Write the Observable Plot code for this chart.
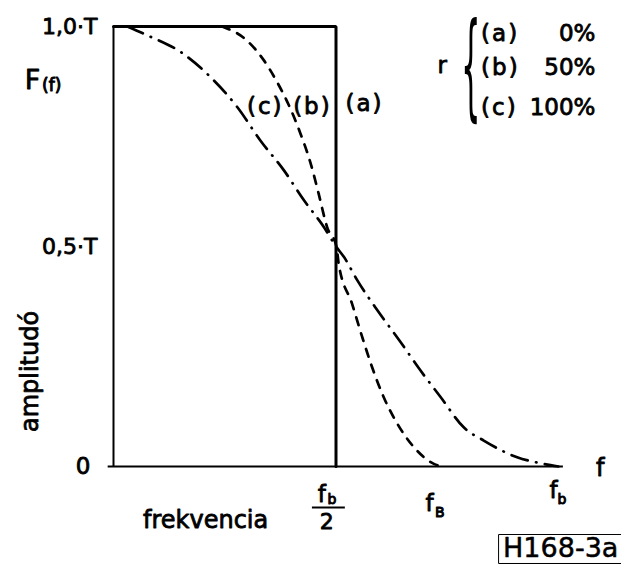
<!DOCTYPE html>
<html>
<head>
<meta charset="utf-8">
<script src="https://cdn.jsdelivr.net/npm/d3@7"></script>
<script src="https://cdn.jsdelivr.net/npm/@observablehq/plot@0.6"></script>
<style>
  body { margin: 0; background: #fff; }
  #chart svg { display: block; }
</style>
</head>
<body>
<div id="chart"></div>
<script>
// ---- data (frequency in units of f_b, amplitude in units of T) ----
const freqA = [0, 0.5, 0.5];
const ampA  = [1, 1, 0];

const freqB = [0.244, 0.300, 0.338, 0.368, 0.390, 0.420, 0.443, 0.461, 0.480, 0.501,
               0.506, 0.536, 0.559, 0.581, 0.607, 0.638, 0.675, 0.720, 0.739];
const ampB  = [1.000, 0.968, 0.923, 0.873, 0.830, 0.757, 0.689, 0.620, 0.544, 0.500,
               0.461, 0.370, 0.294, 0.226, 0.158, 0.097, 0.044, 0.006, 0.000];

const freqC = [0.031, 0.076, 0.151, 0.218, 0.278, 0.330, 0.383, 0.428, 0.473, 0.500,
               0.518, 0.548, 0.593, 0.645, 0.690, 0.735, 0.787, 0.832, 0.907, 0.967, 1.000];
const ampC  = [1.000, 0.980, 0.942, 0.885, 0.817, 0.741, 0.673, 0.605, 0.544, 0.500,
               0.476, 0.423, 0.355, 0.283, 0.218, 0.158, 0.089, 0.059, 0.021, 0.006, 0.000];

const yTicks = [0, 0.5, 1];
const yTickLabels = ["0", "0,5·T", "1,0·T"];
const legendKeys = ["(a)", "(b)", "(c)"];
const legendValues = ["0%", "50%", "100%"];
const curveNames = ["(c)", "(b)", "(a)"];

// ---- tables built from the arrays ----
const A = freqA.map((f, i) => ({f, amp: ampA[i]}));
const B = freqB.map((f, i) => ({f, amp: ampB[i]}));
const C = freqC.map((f, i) => ({f, amp: ampC[i]}));

// annotation anchors (data units)
const curveLabelPos = [{x: 0.341, y: 0.819}, {x: 0.447, y: 0.819}, {x: 0.564, y: 0.825}];
const legendRowY = [0.984, 0.907, 0.816];
const xLabelMain = [
  {t: "f", x: 0.468, y: -0.064, s: 23},
  {t: "2", x: 0.479, y: -0.127, s: 22},
  {t: "f", x: 0.710, y: -0.084, s: 23},
  {t: "f", x: 0.989, y: -0.054, s: 23},
  {t: "f", x: 1.094, y: -0.005, s: 24}
];
const xLabelSub = [
  {t: "b", x: 0.491, y: -0.076},
  {t: "B", x: 0.733, y: -0.105},
  {t: "b", x: 1.008, y: -0.074}
];

const font = "DejaVu Sans";
const ink = {fill: "black", stroke: "black", strokeWidth: 0.8, fontFamily: font};

const chart = Plot.plot({
  width: 621,
  height: 565,
  marginLeft: 113,
  marginRight: 63,
  marginTop: 26,
  marginBottom: 99,
  x: {domain: [0, 1], axis: null},
  y: {domain: [0, 1], axis: null},
  style: {fontFamily: font, background: "white", overflow: "visible"},
  marks: [
    // axes
    Plot.ruleY([0], {x1: -0.012, x2: 1.011, stroke: "black", strokeWidth: 2}),
    Plot.ruleX([0], {y1: 0, y2: 1, stroke: "black", strokeWidth: 2}),
    Plot.text(yTicks.slice(1), {x: 0, y: d => d, text: (d, i) => yTickLabels[i + 1], textAnchor: "end", dx: -16, fontSize: 22, ...ink}),
    Plot.text(yTicks.slice(0, 1), {x: 0, y: d => d, text: (d, i) => yTickLabels[i], textAnchor: "end", dx: -23, fontSize: 23, ...ink}),

    // curves
    Plot.line(A, {x: "f", y: "amp", stroke: "black", strokeWidth: 3, strokeLinejoin: "miter"}),
    Plot.line(B, {x: "f", y: "amp", stroke: "black", strokeWidth: 2.7, strokeDasharray: "8,8.5", strokeLinecap: "round", curve: "monotone-x"}),
    Plot.line(C, {x: "f", y: "amp", stroke: "black", strokeWidth: 2.7, strokeDasharray: "17,8.5,0.5,8.5", strokeLinecap: "round", curve: "monotone-x"}),

    // curve labels
    Plot.text(curveNames, {x: (d, i) => curveLabelPos[i].x, y: (d, i) => curveLabelPos[i].y, text: d => d, fontSize: 23, ...ink}),

    // legend
    Plot.text(["r"], {x: 0.739, y: 0.911, text: d => d, fontSize: 23, ...ink}),
    Plot.text(["{"], {x: 0.803, y: 0.905, text: d => d, fontSize: 110, fill: "black", fontFamily: font}),
    Plot.text(legendKeys, {x: 0.826, y: (d, i) => legendRowY[i], text: d => d, textAnchor: "start", fontSize: 23, ...ink}),
    Plot.text(legendValues, {x: 1.083, y: (d, i) => legendRowY[i], text: d => d, textAnchor: "end", fontSize: 23, ...ink}),

    // F(f)
    Plot.text(["F"], {x: -0.182, y: 0.877, text: d => d, fontSize: 27, ...ink}),
    Plot.text(["(f)"], {x: -0.139, y: 0.866, text: d => d, fontSize: 17, ...ink, strokeWidth: 1}),

    // axis titles
    Plot.text(["amplitudó"], {x: -0.187, y: 0.216, text: d => d, rotate: -90, fontSize: 24, ...ink}),
    Plot.text(["frekvencia"], {x: 0.207, y: -0.123, text: d => d, fontSize: 24, ...ink}),

    // x tick labels
    Plot.text(xLabelMain, {x: "x", y: "y", text: "t", fontSize: d => d.s, ...ink}),
    Plot.text(xLabelSub, {x: "x", y: "y", text: "t", fontSize: 14, ...ink, strokeWidth: 1}),
    Plot.ruleY([0], {x1: 0.447, x2: 0.521, dy: 41, stroke: "black", strokeWidth: 2}),

    // figure code
    Plot.text(["H168-3a"], {x: 1.005, y: -0.186, text: d => d, fontSize: 27, fill: "black", stroke: "black", strokeWidth: 0.5, fontFamily: font})
  ]
});

document.getElementById("chart").appendChild(chart);

const texts = d3.select(chart).selectAll("text");

// slim the brace glyph horizontally
texts.filter(function() { return this.textContent === "{"; }).each(function() {
  const el = d3.select(this);
  const tr = el.attr("transform");
  if (tr) {
    el.attr("transform", tr + " scale(0.28,1.05)");
  } else {
    const x = el.attr("x") || 0, y = el.attr("y") || 0;
    el.attr("x", null).attr("y", null).attr("transform", `translate(${x},${y}) scale(0.28,1.05)`);
  }
});

// letter spacing of the (a)/(b)/(c) labels
texts.filter(function() { return /^\([abc]\)$/.test(this.textContent); })
  .attr("letter-spacing", "2px");

// box around the figure code
texts.filter(function() { return this.textContent === "H168-3a"; }).each(function() {
  const bb = this.getBBox();
  const tr = this.getAttribute("transform");
  const r = d3.select(this.parentNode).insert("rect", () => this)
    .attr("x", bb.x - 4).attr("y", bb.y + 3)
    .attr("width", bb.width + 8).attr("height", bb.height - 3)
    .attr("fill", "white").attr("stroke", "black").attr("stroke-width", 2);
  if (tr) r.attr("transform", tr);
});
</script>
</body>
</html>
